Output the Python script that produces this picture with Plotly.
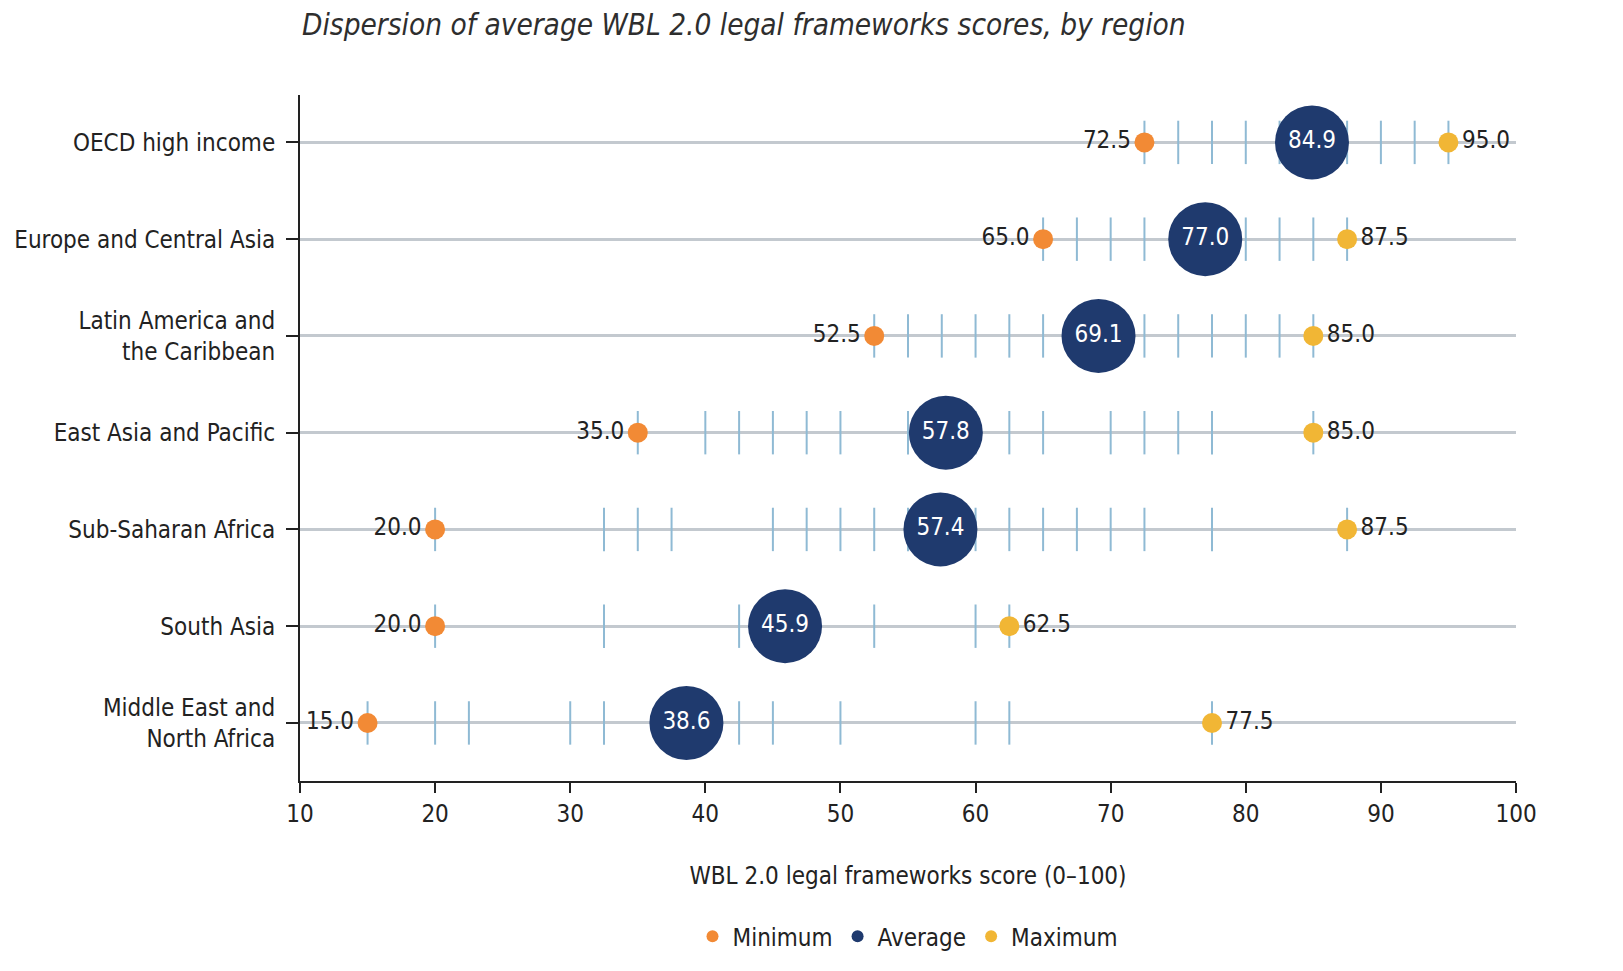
import plotly.graph_objects as go

regions = ["OECD high income", "Europe and Central Asia", "Latin America and<br>the Caribbean",
           "East Asia and Pacific", "Sub-Saharan Africa", "South Asia", "Middle East and<br>North Africa"]
minimum = [72.5, 65.0, 52.5, 35.0, 20.0, 20.0, 15.0]
average = [84.9, 77.0, 69.1, 57.8, 57.4, 45.9, 38.6]
maximum = [95.0, 87.5, 85.0, 85.0, 87.5, 62.5, 77.5]

# distinct economy scores observed in each region (tick marks)
scores = [
    [72.5, 75, 77.5, 80, 82.5, 85, 87.5, 90, 92.5, 95],
    [65, 67.5, 70, 72.5, 75, 77.5, 80, 82.5, 85, 87.5],
    [52.5, 55, 57.5, 60, 62.5, 65, 67.5, 70, 72.5, 75, 77.5, 80, 82.5, 85],
    [35, 40, 42.5, 45, 47.5, 50, 55, 57.5, 60, 62.5, 65, 70, 72.5, 75, 77.5, 85],
    [20, 32.5, 35, 37.5, 45, 47.5, 50, 52.5, 55, 57.5, 60, 62.5, 65, 67.5, 70, 72.5, 77.5, 87.5],
    [20, 32.5, 42.5, 45, 47.5, 52.5, 60, 62.5],
    [15, 20, 22.5, 30, 32.5, 37.5, 40, 42.5, 45, 50, 60, 62.5, 77.5],
]
xticks = [10, 20, 30, 40, 50, 60, 70, 80, 90, 100]

FONT = "Liberation Sans Narrow, DejaVu Sans Condensed, Roboto, sans-serif"
ORANGE = "#f28a35"
NAVY = "#1f3a6e"
YELLOW = "#f1b635"
TICKC = "#8fbad4"
TXT = "#222222"

ypos = list(range(len(regions)))

tx, ty = [], []
for i, row in enumerate(scores):
    for v in row:
        tx.append(v)
        ty.append(i)

fig = go.Figure()
fig.add_trace(go.Scatter(
    x=tx, y=ty, mode="markers", showlegend=False, hoverinfo="skip",
    marker=dict(symbol="line-ns", size=31, line=dict(color=TICKC, width=2), color=TICKC),
))
fig.add_trace(go.Scatter(
    x=minimum, y=ypos, mode="markers+text", name="Minimum",
    marker=dict(size=20, color=ORANGE),
    text=[f"{v:.1f}" for v in minimum], textposition="middle left",
    textfont=dict(size=24, color=TXT, family=FONT), cliponaxis=False,
))
fig.add_trace(go.Scatter(
    x=average, y=ypos, mode="markers+text", name="Average",
    marker=dict(size=74, color=NAVY),
    text=[f"{v:.1f}" for v in average], textposition="middle center",
    textfont=dict(size=24, color="white", family=FONT), cliponaxis=False,
))
fig.add_trace(go.Scatter(
    x=maximum, y=ypos, mode="markers+text", name="Maximum",
    marker=dict(size=20, color=YELLOW),
    text=[f"{v:.1f}" for v in maximum], textposition="middle right",
    textfont=dict(size=24, color=TXT, family=FONT), cliponaxis=False,
))

fig.update_layout(
    width=1623, height=971,
    margin=dict(l=300, r=107, t=95, b=188),
    plot_bgcolor="white", paper_bgcolor="white",
    font=dict(family=FONT, size=24, color=TXT),
    title=dict(text="<i>Dispersion of average WBL 2.0 legal frameworks scores, by region</i>",
               x=302 / 1623, xanchor="left", xref="container",
               y=1 - 25 / 971, yanchor="middle", yref="container",
               font=dict(size=29.5, color="#2e2e2e", family=FONT)),
    xaxis=dict(range=[10, 100], tickvals=xticks, showgrid=False, zeroline=False,
               showline=True, linecolor=TXT, linewidth=2,
               ticks="outside", ticklen=10, tickwidth=1.5, tickcolor=TXT,
               tickfont=dict(size=24, color=TXT),
               title=dict(text="WBL 2.0 legal frameworks score (0–100)", standoff=40,
                          font=dict(size=24, color=TXT))),
    yaxis=dict(range=[6.6, -0.49], tickvals=ypos, ticktext=regions,
               showgrid=True, gridcolor="#c3c9cf", gridwidth=2.5, zeroline=False,
               showline=True, linecolor=TXT, linewidth=2,
               ticks="outside", ticklen=12, tickwidth=1.5, tickcolor=TXT,
               ticklabelstandoff=6,
               tickfont=dict(size=24, color=TXT)),
    legend=dict(orientation="h", x=0.5, xanchor="center", y=-0.227, yanchor="middle",
                font=dict(size=24, color=TXT), itemsizing="constant"),
)

fig.write_html("out.html")
